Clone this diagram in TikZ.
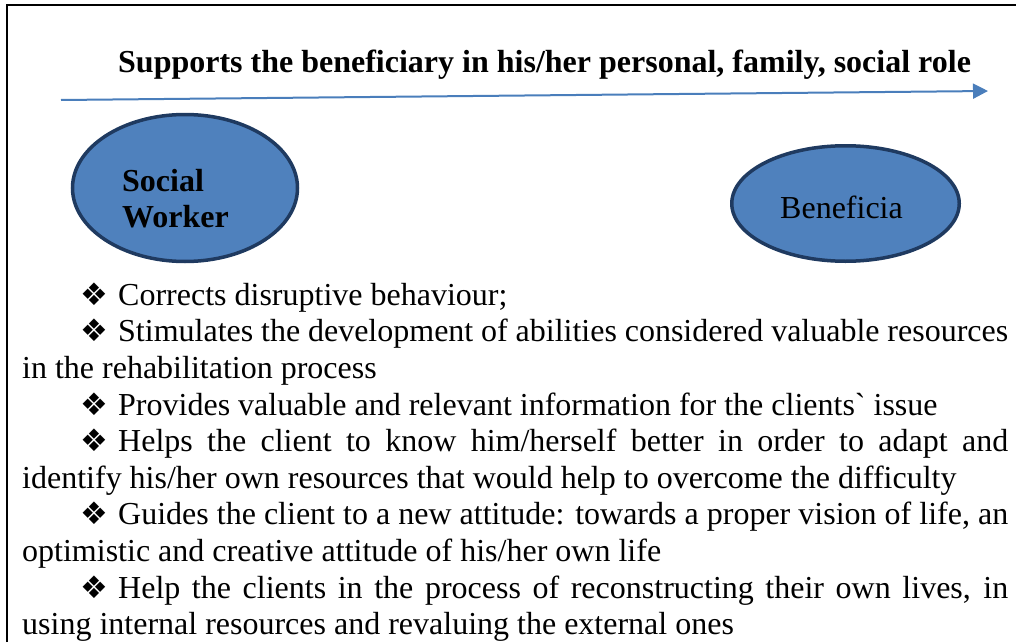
\documentclass[tikz,border=0pt]{standalone}
\usepackage{fontspec}
\setmainfont{Liberation Serif}[Ligatures={TeX,NoCommon}]
\newfontfamily\symfont{DejaVu Sans}
\usetikzlibrary{shapes.geometric,arrows.meta}
\definecolor{ellfill}{HTML}{4F81BD}
\definecolor{elldraw}{HTML}{1F3A60}
\definecolor{arrowblue}{HTML}{4A7EBB}
\newcommand{\bul}{\makebox[38pt][l]{\hspace{0pt}\symfont\fontsize{31}{31}\selectfont ❖}}
\begin{document}
\begin{tikzpicture}[x=1pt,y=-1pt,
  basefont/.style={font=\fontsize{32}{36.6}\selectfont},
  boldfont/.style={font=\fontsize{32}{36.6}\selectfont\bfseries},
  bubble/.style={ellipse, draw=elldraw, line width=3.5pt, fill=ellfill, inner sep=0pt},
  labeltext/.style={inner sep=0pt, anchor=base west},
  frame/.style={line width=2pt, black},
  flow/.style={arrowblue, line width=2pt, -{Triangle[length=15pt,width=15pt]}}]
\useasboundingbox (0,0) rectangle (1016,642);
\draw[frame] (7,642) -- (7,5) -- (1016,5);
\node[labeltext, boldfont] (title) at (118,72) {Supports the beneficiary in his/her personal, family, social role};
\coordinate (as) at (61,100);
\coordinate (ae) at (988,91);
\draw[flow] (as) -- (ae);
\node[bubble, minimum width=225pt, minimum height=147pt] (sw) at (185,188) {};
\node[labeltext, boldfont] (sw1) at (122,191) {Social};
\node[labeltext, boldfont] (sw2) at (122,227) {Worker};
\node[bubble, minimum width=227.5pt, minimum height=115.5pt] (ben) at (845.5,203.5) {};
\node[labeltext, basefont] (bentext) at (780,218) {Beneficia};
\node[basefont, inner sep=0pt, anchor=north west, text width=986pt, align=justify] (body) at (22,279.4) {%
\setlength{\parindent}{58pt}\tolerance=10000 \hyphenpenalty=10000
\noindent\hspace*{58pt}\strut\bul Corrects disruptive behaviour;\par
\bul Stimulates the development of abilities considered valuable resources\linebreak in the rehabilitation process\par
\bul Provides valuable and relevant information for the clients\textasciigrave{} issue\par
\bul Helps the client to know him/herself better in order to adapt and\linebreak identify his/her own resources that would help to overcome the difficulty\par
\bul Guides the client to a new attitude: towards a proper vision of life, an\linebreak optimistic and creative attitude of his/her own life\par
\bul Help the clients in the process of reconstructing their own lives, in\linebreak using internal resources and revaluing the external ones\par};
\end{tikzpicture}
\end{document}
